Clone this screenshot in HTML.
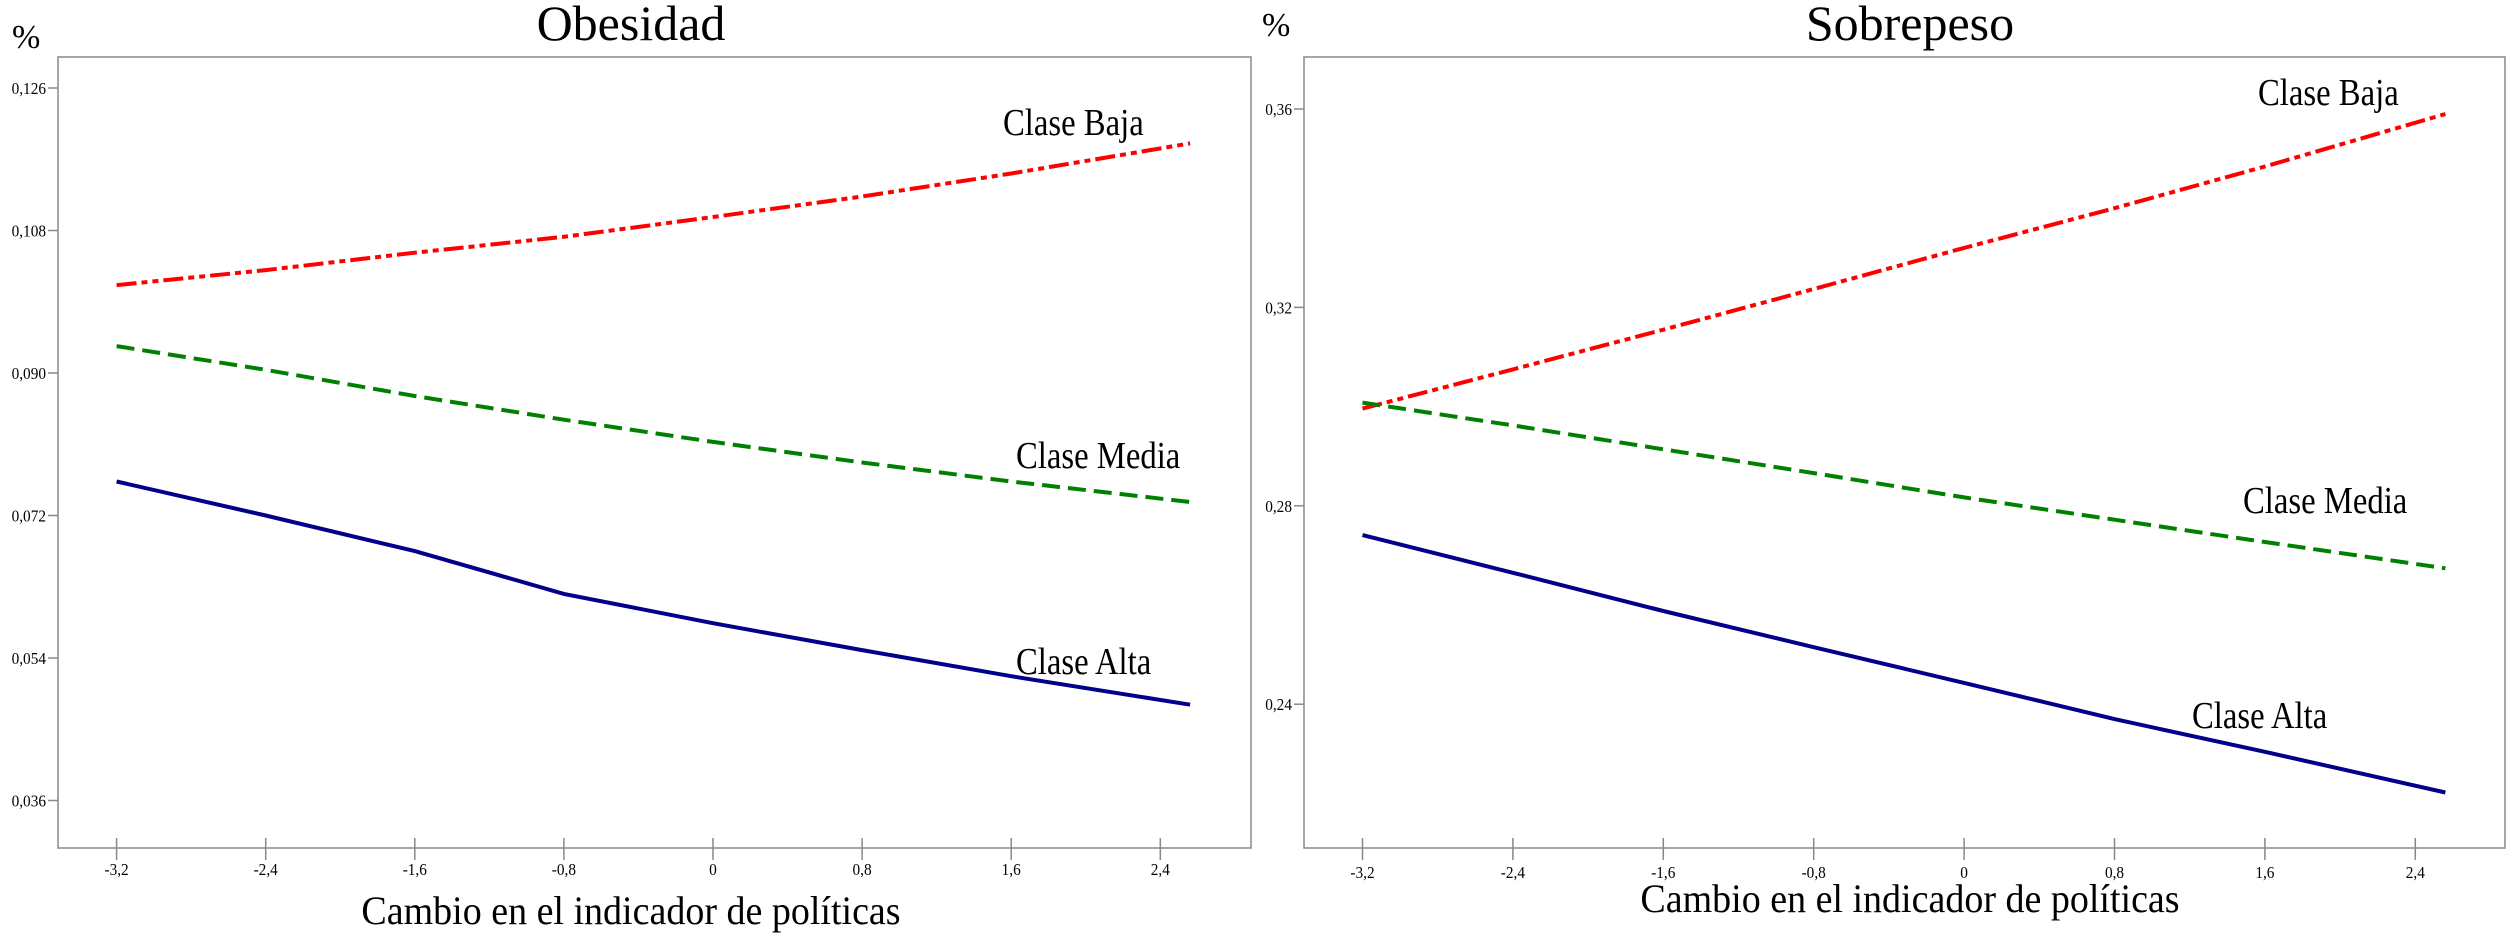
<!DOCTYPE html>
<html><head><meta charset="utf-8"><style>
body{margin:0;background:#fff}
svg{display:block;font-family:"Liberation Serif",serif}
</style></head><body>
<svg id="chart" width="2508" height="935" viewBox="0 0 2508 935" xmlns="http://www.w3.org/2000/svg"></svg>
<script>
const xValues = [-3.2,-2.4,-1.6,-0.8,0,0.8,1.6,2.56];
const xTicks = [-3.2,-2.4,-1.6,-0.8,0,0.8,1.6,2.4];
const xTickLabels = ["-3,2","-2,4","-1,6","-0,8","0","0,8","1,6","2,4"];
const obesBaja = [0.1011,0.1030,0.1052,0.1072,0.1097,0.1123,0.1152,0.1190];
const obesMedia = [0.0934,0.0904,0.0871,0.0841,0.0813,0.0787,0.0763,0.0737];
const obesAlta = [0.0763,0.0720,0.0675,0.0621,0.0584,0.0550,0.0517,0.0481];
const obesYTicks = [0.126,0.108,0.090,0.072,0.054,0.036];
const obesYLabels = ["0,126","0,108","0,090","0,072","0,054","0,036"];
const sobBaja = [0.2996,0.3075,0.3155,0.3237,0.3320,0.3400,0.3484,0.3590];
const sobMedia = [0.3008,0.2962,0.2914,0.2866,0.2817,0.2772,0.2727,0.2674];
const sobAlta = [0.2741,0.2665,0.2588,0.2515,0.2443,0.2370,0.2304,0.2222];
const sobYTicks = [0.36,0.32,0.28,0.24];
const sobYLabels = ["0,36","0,32","0,28","0,24"];

const svg = document.getElementById('chart');
const NS = 'http://www.w3.org/2000/svg';
function mk(tag, attrs, parent){const e=document.createElementNS(NS,tag);for(const k in attrs)e.setAttribute(k,attrs[k]);(parent||svg).appendChild(e);return e;}
function txt(s, attrs, parent){const e=mk('text',attrs,parent);e.textContent=s;return e;}
function condense(e,f){const w=e.getComputedTextLength();e.setAttribute('textLength',(w*f).toFixed(1));e.setAttribute('lengthAdjust','spacingAndGlyphs');}

function panel(cfg){
  const g = mk('g',{});
  
  
  const X = v => cfg.x0 + (v - (-3.2)) / 0.8 * cfg.xStep;
  const Y = v => cfg.yTop + (cfg.yTickTop - v) / cfg.yTickStep * cfg.yPix;
  const box = mk('rect',{x:cfg.bx0,y:57,width:cfg.bx1-cfg.bx0,height:791,fill:'none',stroke:'#888','stroke-width':1.5},g);
  
  
  cfg.yTicks.forEach((v,i)=>{
    const y=Y(v);
    mk('line',{x1:cfg.bx0-10,x2:cfg.bx0,y1:y,y2:y,stroke:'#888','stroke-width':1.5},g);
    const t=txt(cfg.yLabels[i],{x:cfg.bx0-12,y:y+6,'font-size':17,'text-anchor':'end',fill:'#000'},g);
    
    
    condense(t,0.9);
  });
  xTicks.forEach((v,i)=>{
    const x=X(v);
    mk('line',{x1:x,x2:x,y1:838,y2:860,stroke:'#888','stroke-width':1.5},g);
    const t=txt(xTickLabels[i],{x:x,y:cfg.xLabY,'font-size':17,'text-anchor':'middle',fill:'#000'},g);
    
    
    condense(t,0.9);
  });
  const series=[
    {d:cfg.baja,c:'#ff0000',dash:'20 5 6 5 6 5',n:'series-clase-baja'},
    {d:cfg.media,c:'#008000',dash:'18 8',n:'series-clase-media'},
    {d:cfg.alta,c:'#00008b',dash:'',n:'series-clase-alta'}];
  series.forEach(s=>{
    const pts=s.d.map((v,i)=>X(xValues[i]).toFixed(1)+','+Y(v).toFixed(1)).join(' ');
    const p=mk('polyline',{points:pts,fill:'none',stroke:s.c,'stroke-width':4,'stroke-dasharray':s.dash},g);
    
    
  });
  cfg.labels.forEach(l=>{
    const t=txt(l[0],{x:l[1],y:l[2],'font-size':38,fill:'#000'},g);
    
    
    condense(t,0.86);
  });
  const ti=txt(cfg.title,{x:cfg.titleX,y:40,'font-size':50,'text-anchor':'middle',fill:'#000'},g);
  
  
  const pc=txt('%',{x:cfg.pctX,y:cfg.pctY,'font-size':34,fill:'#000'},g);
  
  
  const xt=txt('Cambio en el indicador de políticas',{x:cfg.titleX,y:cfg.xTitleY,'font-size':40,'text-anchor':'middle',fill:'#000'},g);
  
  
  condense(xt,0.95);
}

panel({name:'obesidad-panel',x0:116.6,xStep:149.1,bx0:58,bx1:1251,yTop:88,yTickTop:0.126,yTickStep:0.018,yPix:142.5,
  yTicks:obesYTicks,yLabels:obesYLabels,baja:obesBaja,media:obesMedia,alta:obesAlta,xLabY:875,
  labels:[['Clase Baja',1003,135],['Clase Media',1016,468],['Clase Alta',1016,674]],
  title:'Obesidad',titleX:631,pctX:12,pctY:48,xTitleY:924});
panel({name:'sobrepeso-panel',x0:1362.5,xStep:150.4,bx0:1304,bx1:2505,yTop:109,yTickTop:0.36,yTickStep:0.04,yPix:198.4,
  yTicks:sobYTicks,yLabels:sobYLabels,baja:sobBaja,media:sobMedia,alta:sobAlta,xLabY:878,
  labels:[['Clase Baja',2258,105],['Clase Media',2243,513],['Clase Alta',2192,728]],
  title:'Sobrepeso',titleX:1910,pctX:1262,pctY:36,xTitleY:912});
</script>
</body></html>
